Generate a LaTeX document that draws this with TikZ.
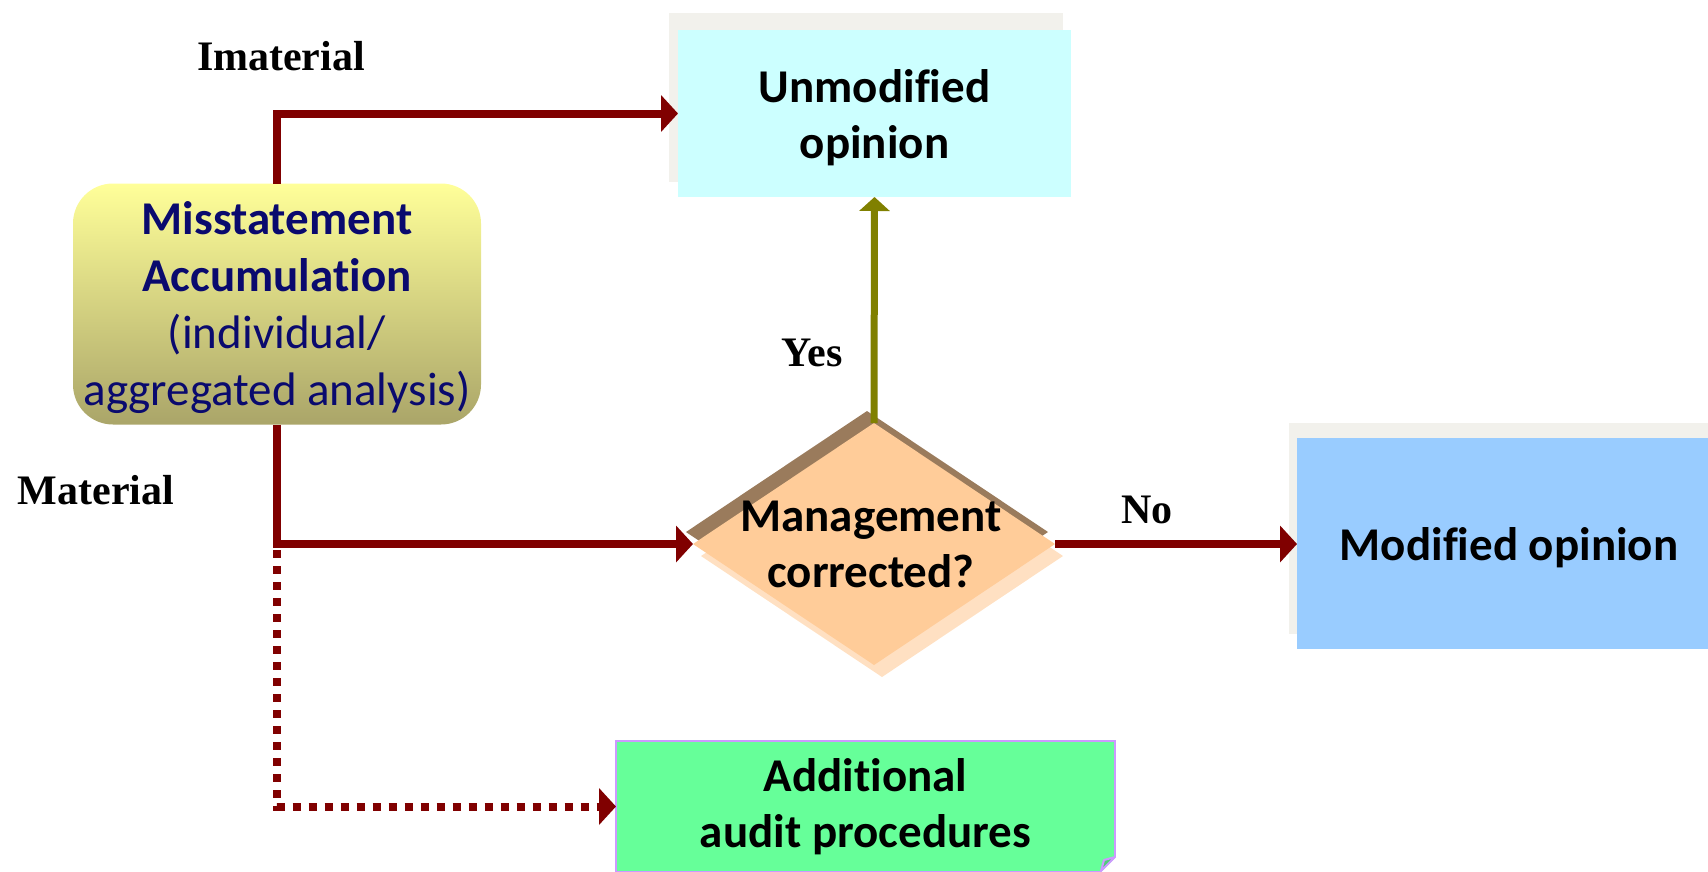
\documentclass[tikz,border=0pt]{standalone}
\usepackage{fontspec}
\setmainfont[Ligatures=NoCommon,RawFeature={-liga;-clig;-dlig}]{Carlito}
\newfontfamily\labfont{Liberation Serif}
\usetikzlibrary{arrows.meta,shapes.geometric}
\definecolor{dred}{RGB}{128,0,0}
\definecolor{olivec}{RGB}{128,128,0}
\definecolor{navyt}{RGB}{10,10,110}
\definecolor{shadowg}{RGB}{242,241,236}
\definecolor{cyanbox}{RGB}{204,255,255}
\definecolor{bluebox}{RGB}{153,204,255}
\definecolor{greenbox}{RGB}{102,255,153}
\definecolor{lavender}{RGB}{204,153,255}
\definecolor{peach}{RGB}{255,204,153}
\definecolor{peachlight}{RGB}{255,224,194}
\definecolor{peachdark}{RGB}{154,123,92}
\definecolor{yeltop}{RGB}{255,255,153}
\definecolor{yelbot}{RGB}{170,165,105}
\newcommand{\lowr}[1]{\raisebox{-4pt}[\height][\depth]{#1}}
\begin{document}
\begin{tikzpicture}[x=1pt,y=-1pt,
  boxtext/.style={font=\fontsize{47pt}{56pt}\selectfont\bfseries, align=center},
  flatbox/.style={rectangle, inner sep=0pt, outer sep=0pt, boxtext},
  lbl/.style={font=\labfont\fontsize{42pt}{48pt}\selectfont\bfseries, inner sep=0pt},
  redline/.style={draw=dred, line width=8pt},
  redarrow/.style={redline, -{Triangle[length=17pt,width=36pt]}},
  olivearrow/.style={draw=olivec, line width=7pt, -{Triangle[length=14pt,width=30pt]}},
  dia/.style={diamond, minimum width=362pt, minimum height=242pt, inner sep=0pt, outer sep=0pt}
]
\useasboundingbox (0,0) rectangle (1708,871);

% Misstatement box
\node[rectangle, rounded corners=40pt, minimum width=408pt, minimum height=241pt,
      inner sep=0pt, outer sep=0pt, top color=yeltop, bottom color=yelbot,
      font=\fontsize{47pt}{57pt}\selectfont, text=navyt, align=center]
  (mis) at (277,304) {\lowr{\textbf{Misstatement}}\\\lowr{\textbf{Accumulation}}\\\lowr{(individual/}\\\lowr{aggregated analysis)}};

% Unmodified opinion
\fill[shadowg] (669,13) rectangle (1063,182);
\node[flatbox, fill=cyanbox, minimum width=393pt, minimum height=167pt]
  (unmod) at (874.5,113.5) {\lowr{Unmodified}\\\lowr{opinion}};

% Modified opinion
\fill[shadowg] (1289,423) rectangle (1713,634);
\node[flatbox, fill=bluebox, minimum width=424pt, minimum height=211pt]
  (mod) at (1509,543.5) {\lowr{Modified opinion}};

% Additional audit procedures
\node[flatbox, fill=greenbox, draw=lavender, line width=2pt, minimum width=499pt, minimum height=131pt]
  (add) at (865.5,806.5) {Additional\\audit procedures};
\fill[white] (1116,857) -- (1116,873) -- (1100,873) -- cycle;
\filldraw[fill=greenbox!80!black, draw=lavender, line width=2pt, line join=round]
  (1115,857) -- (1101,871) -- (1104,860) -- cycle;

% Decision diamond
\node[dia, fill=peachdark] (dshadowa) at (867,532) {};
\node[dia, fill=peachlight] (dshadowb) at (882,556) {};
\node[dia, fill=peach] (d) at (874,544) {};
\node[boxtext, inner sep=0pt] (dtext) at ([xshift=-3pt]d.center) {Management\\corrected?};

% Connectors
\coordinate (topbend) at (mis.north |- unmod.west);
\coordinate (midbend) at (mis.south |- d.west);
\coordinate (lowbend) at (mis.south |- add.west);
\draw[redarrow] (mis.north) -- (topbend) -- (unmod.west);
\draw[redarrow] (mis.south) -- (midbend) -- (d.west);
\draw[draw=dred, line width=8pt, dash pattern=on 8pt off 8pt, -{Triangle[length=17pt,width=36pt]}]
  ([yshift=-6pt]midbend) -- (lowbend) -- (add.west);
\draw[redarrow] (d.east) -- (d.east -| mod.west);
\draw[olivearrow] (d.north) -- (unmod.south);

% Labels
\node[lbl] (limat) at (281,56) {Imaterial};
\node[lbl] (lmat) at (96,490) {Material};
\node[lbl] (lyes) at (812,353) {Yes};
\node[lbl] (lno) at (1147,510) {No};
\end{tikzpicture}
\end{document}
